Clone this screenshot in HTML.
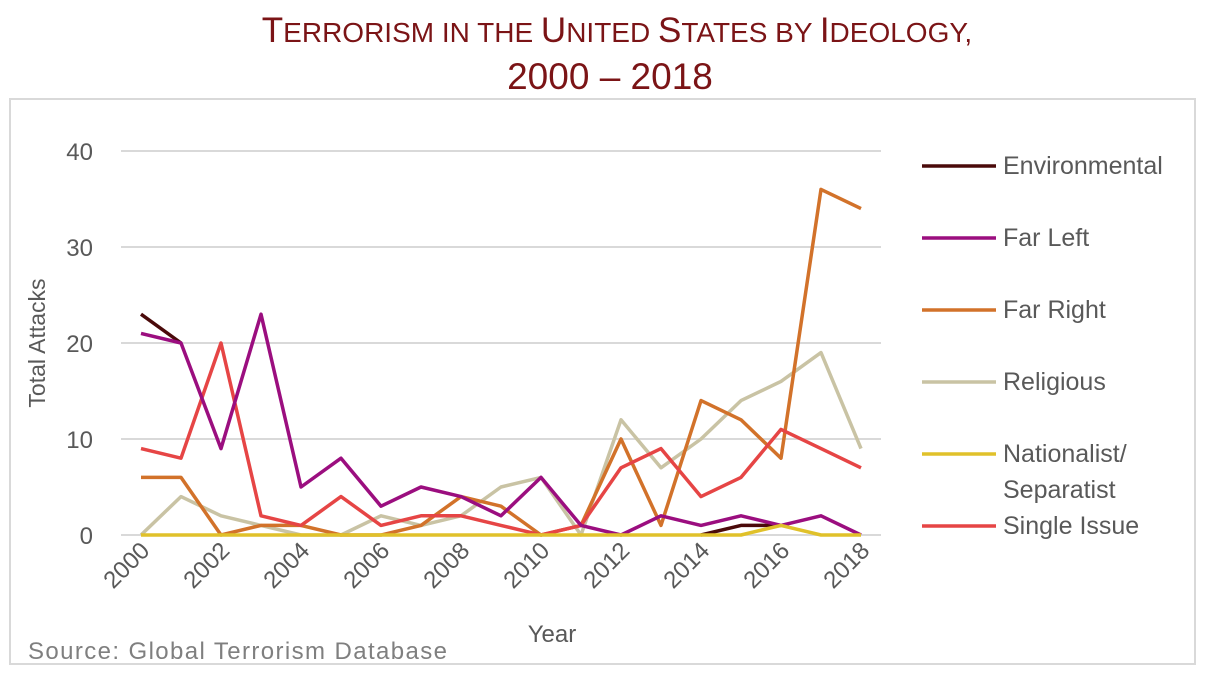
<!DOCTYPE html>
<html><head><meta charset="utf-8"><style>
body{margin:0;background:#fff;width:1205px;height:669px;overflow:hidden;font-family:"Liberation Sans",sans-serif}
</style></head><body>
<svg id="chart" width="1205" height="669" xmlns="http://www.w3.org/2000/svg">
<text x="617" y="42" text-anchor="middle" fill="#7b1416" font-size="35"><tspan>T</tspan><tspan font-size="28">ERRORISM IN THE </tspan><tspan>U</tspan><tspan font-size="28">NITED </tspan><tspan>S</tspan><tspan font-size="28">TATES BY </tspan><tspan>I</tspan><tspan font-size="28">DEOLOGY,</tspan></text>
<text x="610" y="89" text-anchor="middle" fill="#7b1416" font-size="37">2000 – 2018</text>
<rect x="10" y="99" width="1185" height="565" fill="none" stroke="#d9d9d9" stroke-width="2"/>
<g id="grid"></g><g id="lines"></g><g id="legend"></g>
<text transform="translate(45,343) rotate(-90)" text-anchor="middle" font-size="23" fill="#595959">Total Attacks</text>
<text x="552" y="642" text-anchor="middle" font-size="24" fill="#595959">Year</text>
<text x="28" y="659" font-size="24" textLength="419" fill="#7f7f7f">Source: Global Terrorism Database</text>
</svg>
<script>
const years=[2000,2001,2002,2003,2004,2005,2006,2007,2008,2009,2010,2011,2012,2013,2014,2015,2016,2017,2018];
const yTicks=[0,10,20,30,40];
const xTickLabels=[2000,2002,2004,2006,2008,2010,2012,2014,2016,2018];
const environmental=[23,20,null,null,null,null,null,null,null,null,null,null,null,null,0,1,1,null,null];
const farLeft=[21,20,9,23,5,8,3,5,4,2,6,1,0,2,1,2,1,2,0];
const farRight=[6,6,0,1,1,0,0,1,4,3,0,1,10,1,14,12,8,36,34];
const religious=[0,4,2,1,0,0,2,1,2,5,6,0,12,7,10,14,16,19,9];
const nationalist=[0,0,0,0,0,0,0,0,0,0,0,0,0,0,0,0,1,0,0];
const singleIssue=[9,8,20,2,1,4,1,2,2,1,0,1,7,9,4,6,11,9,7];
const NS="http://www.w3.org/2000/svg";
const xs=y=>141+(y-2000)*40, ys=v=>535-v*9.6;
function mk(t,a,p){const e=document.createElementNS(NS,t);for(const k in a)e.setAttribute(k,a[k]);p.appendChild(e);return e;}
const grid=document.getElementById('grid');
yTicks.forEach(t=>{
 const l=mk('line',{x1:121,x2:881,y1:ys(t),y2:ys(t),stroke:'#d9d9d9','stroke-width':2},grid);
 
 
 const tx=mk('text',{x:93,y:ys(t)+9,'text-anchor':'end','font-size':24,fill:'#595959'},grid);tx.textContent=t;
 
 
});
xTickLabels.forEach(y=>{
 const tx=mk('text',{transform:`translate(${xs(y)+10},${552}) rotate(-45)`,'text-anchor':'end','font-size':24,fill:'#595959'},grid);tx.textContent=y;
 
 
});
const series=[
 ['Environmental',environmental,'#4a0a0a'],
 ['Religious',religious,'#c9c3a4'],
 ['Far Right',farRight,'#d2722a'],
 ['Single Issue',singleIssue,'#e64545'],
 ['Far Left',farLeft,'#9b0e7f'],
 ['Nationalist/Separatist',nationalist,'#e0c12a']];
const lines=document.getElementById('lines');
series.forEach(([n,d,c])=>{
 let dstr='',pen=false;
 d.forEach((v,i)=>{if(v===null){pen=false;return;}dstr+=(pen?'L':'M')+xs(years[i])+','+ys(v)+' ';pen=true;});
 const p=mk('path',{d:dstr,fill:'none',stroke:c,'stroke-width':3.5,'stroke-linejoin':'round'},lines);
 
 
});
const leg=[['Environmental','#4a0a0a',166],['Far Left','#9b0e7f',238],['Far Right','#d2722a',310],['Religious','#c9c3a4',382],['Nationalist/','#e0c12a',454],['Single Issue','#e64545',526]];
const lg=document.getElementById('legend');
leg.forEach(([n,c,y])=>{
 const g=mk('g',{},lg);
 
 
 mk('line',{x1:922,x2:996,y1:y,y2:y,stroke:c,'stroke-width':3.5},g);
 const t=mk('text',{x:1003,y:y+8,'font-size':25,fill:'#595959'},g);t.textContent=n;
 if(n==='Nationalist/'){const t2=mk('text',{x:1003,y:y+44,'font-size':25,fill:'#595959'},g);t2.textContent='Separatist';}
});
</script>
</body></html>
